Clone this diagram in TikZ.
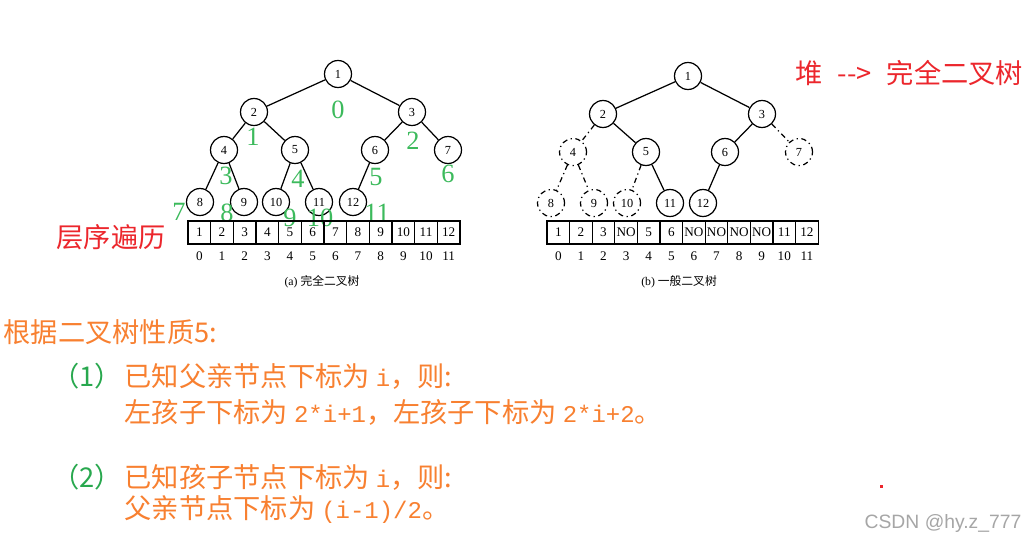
\documentclass[tikz,border=0pt]{standalone}
\usepackage{fontspec}
\setmainfont{Liberation Serif}
\newfontfamily\cjk{Noto Sans CJK SC}
\newfontfamily\mono[Scale=0.88]{Liberation Mono}
\newfontfamily\wmfont{Liberation Sans}
\usepackage{xcolor}
\usepackage{tikz}
\usetikzlibrary{positioning}

\definecolor{idxgreen}{RGB}{60,186,92}
\definecolor{itemgreen}{RGB}{40,168,78}
\definecolor{notered}{RGB}{236,38,44}
\definecolor{noteorange}{RGB}{248,128,48}

\begin{document}
\begin{tikzpicture}[x=0.02cm,y=-0.02cm,line width=0.7pt,
  nd/.style={draw,circle,minimum size=0.54cm,inner sep=0pt,font=\fontsize{7}{8}\selectfont},
  gnd/.style={nd,dash dot},
  cell/.style={draw,minimum width=0.4533cm,minimum height=0.46cm,inner sep=0pt,font=\fontsize{7.5}{8}\selectfont},
  idx/.style={inner sep=0pt,font=\fontsize{7.5}{8}\selectfont},
  num/.style={inner sep=0pt,text=idxgreen,font=\fontsize{15}{16}\selectfont},
  note/.style={anchor=west,inner sep=0pt,text=noteorange,font=\cjk\fontsize{15.5}{18}\selectfont},
  captext/.style={inner sep=0pt,font=\fontsize{6.7}{8}\selectfont}
]
\useasboundingbox (0,0) rectangle (1026,541);
\fill[white] (0,0) rectangle (1026,541);

% (a) complete binary tree
\node[nd] (L1)  at (338,74)  {1};
\node[nd] (L2)  at (254,112) {2};
\node[nd] (L3)  at (412,112) {3};
\node[nd] (L4)  at (224,150) {4};
\node[nd] (L5)  at (295,150) {5};
\node[nd] (L6)  at (375,150) {6};
\node[nd] (L7)  at (448,150) {7};
\node[nd] (L8)  at (200,202) {8};
\node[nd] (L9)  at (244,202) {9};
\node[nd] (L10) at (276,202) {10};
\node[nd] (L11) at (319,202) {11};
\node[nd] (L12) at (353,202) {12};
\draw (L1) -- (L2);  \draw (L1) -- (L3);
\draw (L2) -- (L4);  \draw (L2) -- (L5);
\draw (L3) -- (L6);  \draw (L3) -- (L7);
\draw (L4) -- (L8);  \draw (L4) -- (L9);
\draw (L5) -- (L10); \draw (L5) -- (L11);
\draw (L6) -- (L12);

% index marks
\node[num] (g0)  at (338,110) {0};
\node[num] (g1)  at (253,137) {1};
\node[num] (g2)  at (413,141) {2};
\node[num] (g3)  at (226,176) {3};
\node[num] (g4)  at (298,179) {4};
\node[num] (g5)  at (376,177) {5};
\node[num] (g6)  at (448,174) {6};
\node[num] (g7)  at (179,212) {7};
\node[num] (g8)  at (227,213) {8};
\node[num] (g9)  at (290,218) {9};
\node[num] (g10) at (320,218) {10};
\node[num] (g11) at (377,213) {11};

\foreach \v [count=\i] in {1,...,12}
  \node[cell] (la\i) at ({188+22.67*(\i-0.5)},232.5) {\v};
\foreach \i in {0,...,11}
  \node[idx] (li\i) at ({188+22.67*(\i+0.5)},256) {\i};
\node[captext] (capa) at (322,282) {(a) {\cjk 完全二叉树}};

% (b) general binary tree
\node[nd]  (R1)  at (688,76)  {1};
\node[nd]  (R2)  at (603,114) {2};
\node[nd]  (R3)  at (762,114) {3};
\node[gnd] (R4)  at (573,152) {4};
\node[nd]  (R5)  at (646,152) {5};
\node[nd]  (R6)  at (725,152) {6};
\node[gnd] (R7)  at (799,152) {7};
\node[gnd] (R8)  at (551,203) {8};
\node[gnd] (R9)  at (594,203) {9};
\node[gnd] (R10) at (627,203) {10};
\node[nd]  (R11) at (670,203) {11};
\node[nd]  (R12) at (703,203) {12};
\draw (R1) -- (R2);  \draw (R1) -- (R3);
\draw[dash dot] (R2) -- (R4);  \draw (R2) -- (R5);
\draw (R3) -- (R6);  \draw[dash dot] (R3) -- (R7);
\draw[dash dot] (R4) -- (R8);  \draw[dash dot] (R4) -- (R9);
\draw[dash dot] (R5) -- (R10); \draw (R5) -- (R11);
\draw (R6) -- (R12);

\foreach \v [count=\i] in {1,2,3,NO,5,6,NO,NO,NO,NO,11,12}
  \node[cell] (ra\i) at ({547+22.6*(\i-0.5)},232.5) {\v};
\foreach \i in {0,...,11}
  \node[idx] (ri\i) at ({547+22.6*(\i+0.5)},256) {\i};
\node[captext] (capb) at (679,282) {(b) {\cjk 一般二叉树}};

% notes
\node[note,text=notered] (trav) at (56,237) {层序遍历};
\node[note,text=notered] (heap) at (795,73) {堆\hspace{0.55em}-\kern0pt-\kern0pt>\hspace{0.55em}完全二叉树};
\node[note] (prop) at (3,332) {根据二叉树性质5:};
\node[note,text=itemgreen] (k1) at (52,376) {（1）};
\node[note] (t1)  at (124,376) {已知父亲节点下标为 {\mono i}，则:};
\node[note] (t1b) at (124,412) {左孩子下标为 {\mono 2*i+1}，左孩子下标为 {\mono 2*i+2}。};
\node[note,text=itemgreen] (k2) at (52,477) {（2）};
\node[note] (t2)  at (124,477) {已知孩子节点下标为 {\mono i}，则:};
\node[note] (t2b) at (124,510) {父亲节点下标为 {\mono (i-1)/2}。};

\fill[notered] (879.5,484.5) rectangle (882.5,487.5);
\node[anchor=east,inner sep=0pt,text=black!35,font=\wmfont\fontsize{11}{12}\selectfont] (mark) at (1022,523) {CSDN @hy.z\_777};
\end{tikzpicture}
\end{document}
